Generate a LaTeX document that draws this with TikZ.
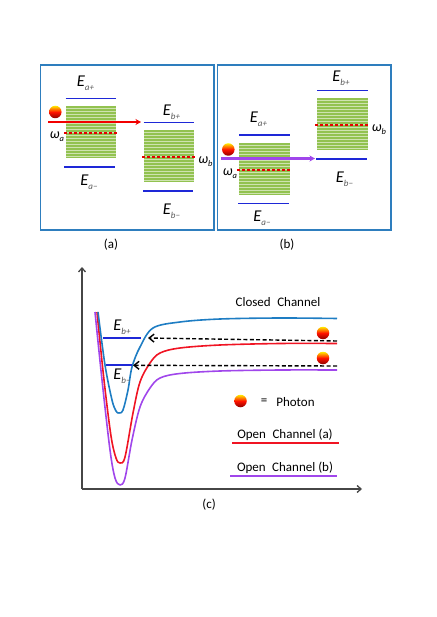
\documentclass[tikz,border=0pt]{standalone}
\usepackage{fontspec}
\setmainfont{Carlito}
\usepackage{xcolor}
\usetikzlibrary{arrows.meta}
\definecolor{framecol}{RGB}{46,126,190}
\definecolor{bandcol}{RGB}{146,194,80}
\definecolor{levelcol}{RGB}{30,40,215}
\definecolor{closedcol}{RGB}{30,125,195}
\definecolor{opencol}{RGB}{240,20,35}
\definecolor{purplecol}{RGB}{160,70,235}
\definecolor{axiscol}{RGB}{70,70,70}
\newcommand{\Elab}[1]{{\fontsize{16.5}{16.5}\selectfont\itshape E}\raisebox{-3.5pt}{\fontsize{9}{9}\selectfont\itshape\color{black!65}#1}}
\newcommand{\wlab}[1]{{\fontsize{14}{14}\selectfont\itshape ω}\raisebox{-3pt}{\fontsize{8.5}{8.5}\selectfont\itshape #1}}
\tikzset{
  frame/.style={draw=framecol,line width=1.7pt},
  band/.style={bandcol,line width=50.5pt,dash pattern=on 2.1pt off 0.9pt},
  bandbase/.style={bandcol!45!white,line width=50.5pt},
  level/.style={levelcol,line width=1.6pt},
  resonance/.style={red!90!black,line width=1.3pt,dash pattern=on 3.4pt off 1.6pt},
  photon/.style={circle,inner sep=0pt,minimum size=12.5pt,top color=yellow!85!orange,bottom color=red!55!black,middle color=red!85!orange},
  pump/.style={-{Stealth[length=5.5pt,width=6pt]},line width=2.6pt},
  well/.style={line width=1.6pt,line join=round},
  back/.style={-{Straight Barb[length=5pt,width=8pt]},black,line width=1.4pt,dash pattern=on 4pt off 2.4pt},
  axis/.style={-{Straight Barb[length=4pt,width=7pt]},axiscol,line width=1.3pt},
  txt/.style={inner sep=0pt,font=\fontsize{13}{15}\selectfont}
}
\begin{document}
\begin{tikzpicture}[x=1pt,y=-1pt,line cap=butt]
  \useasboundingbox (0,0) rectangle (436,617);
  % panel frames
  \draw[frame] (40.5,65) rectangle (214,230);
  \draw[frame] (217.5,65) rectangle (391,230);
  % panel (a)
  \coordinate (AT) at (90.8,106);
  \coordinate (AB) at (90.8,158);
  \coordinate (BT) at (169,130);
  \coordinate (BB) at (169,182);
  \draw[bandbase] (AT) -- (AB);
  \draw[band] (AT) -- (AB);
  \draw[bandbase] (BT) -- (BB);
  \draw[band] (BT) -- (BB);
  \draw[level] (65.5,98.5) -- (116,98.5);
  \draw[level] (64,167) -- (115,167);
  \draw[level] (143.5,122.5) -- (194,122.5);
  \draw[level] (143,191) -- (193,191);
  \draw[resonance] (64,133) -- (117,133);
  \draw[resonance] (142,157) -- (196,157);
  \coordinate (PA1) at (48,122);
  \coordinate (PA2) at (141,122);
  \draw[pump,red!95!black] (PA1) -- (PA2);
  \node[photon] (PhA) at (55.3,112) {};
  \node (EAp) at (85.5,83) {\Elab{a+}};
  \node (EAm) at (89,182) {\Elab{a−}};
  \node (EBp) at (171.5,112) {\Elab{b+}};
  \node (EBm) at (171.5,211) {\Elab{b−}};
  \node (WA) at (57,137) {\wlab{a}};
  \node (WB) at (205.5,162) {\wlab{b}};
  % panel (b)
  \coordinate (CT) at (264.5,143);
  \coordinate (CB) at (264.5,195);
  \coordinate (DT) at (342.5,98);
  \coordinate (DB) at (342.5,150);
  \draw[bandbase] (CT) -- (CB);
  \draw[band] (CT) -- (CB);
  \draw[bandbase] (DT) -- (DB);
  \draw[band] (DT) -- (DB);
  \draw[level] (239,135) -- (290,135);
  \draw[level] (238,203.5) -- (289,203.5);
  \draw[level] (317,90.5) -- (368,90.5);
  \draw[level] (316,159) -- (367,159);
  \draw[resonance] (237,170) -- (291,170);
  \draw[resonance] (315,125) -- (369,125);
  \coordinate (PB1) at (221,158.5);
  \coordinate (PB2) at (315,158.5);
  \draw[pump,purplecol] (PB1) -- (PB2);
  \node[photon] (PhB) at (228.3,149.5) {};
  \node (ECp) at (258.5,119) {\Elab{a+}};
  \node (ECm) at (262,218) {\Elab{a−}};
  \node (EDp) at (341,78) {\Elab{b+}};
  \node (EDm) at (344.5,179) {\Elab{b−}};
  \node (WC) at (230,173.5) {\wlab{a}};
  \node (WD) at (379,130) {\wlab{b}};
  \node[txt] (La) at (111,245) {(a)};
  \node[txt] (Lb) at (287,245) {(b)};
  % panel (c)
  \coordinate (O) at (82,489);
  \coordinate (YT) at (82,267);
  \coordinate (XR) at (362,489);
  \draw[axis] (O) -- (YT);
  \draw[axis] (O) -- (XR);
  \draw[well,purplecol] plot[smooth,tension=0.55] coordinates {(95,312) (102,380) (110,450) (115,478) (120,485) (125,478) (132,440) (140,407) (150,388) (160,378) (180,373.5) (220,371) (280,370) (337,370)};
  \draw[well,opencol] plot[smooth,tension=0.55] coordinates {(97,312) (104,380) (111,436) (116,458) (120,463) (125,457) (133,413) (140,382) (150,363) (160,353) (180,348) (220,345) (280,343.5) (337,343.5)};
  \draw[well,closedcol] plot[smooth,tension=0.55] coordinates {(98,312) (105,365) (112,400) (116,411) (119,413) (123,410) (128,390) (132,367) (140,347) (153,328) (180,322) (220,319) (280,318) (337,318.5)};
  \draw[level] (103,338) -- (141,338);
  \draw[level] (106,365) -- (132,365);
  \coordinate (A1) at (337,341);
  \coordinate (A2) at (148,338);
  \coordinate (B1) at (337,366);
  \coordinate (B2) at (133,365.3);
  \draw[back] (A1) -- (A2);
  \draw[back] (B1) -- (B2);
  \node[photon] (PhU) at (323,333) {};
  \node[photon] (PhL) at (323,358) {};
  \node[photon] (PhK) at (240.5,401) {};
  \node (EEp) at (122,327) {\Elab{b+}};
  \node (EEm) at (122,376) {\Elab{b−}};
  \node[txt] (Closed) at (278,302.5) {Closed\enspace Channel};
  \node[txt] (Eq) at (264,402) {=};
  \node[txt] (Ph) at (295.5,402) {Photon};
  \node[txt] (OpA) at (285,435) {Open\enspace Channel (a)};
  \node[txt] (OpB) at (285,468) {Open\enspace Channel (b)};
  \draw[well,opencol] (232,443) -- (339,443);
  \draw[well,purplecol] (230,476) -- (337,476);
  \node[txt] (Lc) at (209,505) {(c)};
\end{tikzpicture}
\end{document}
